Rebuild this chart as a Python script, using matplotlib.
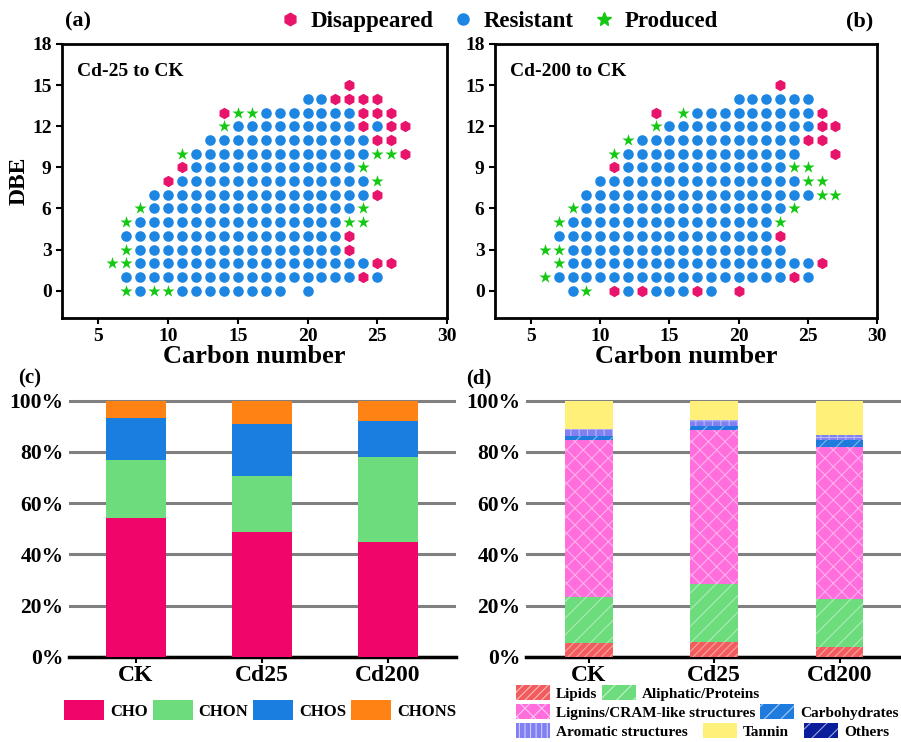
import matplotlib
matplotlib.use("Agg")
import matplotlib.pyplot as plt
import numpy as np
from matplotlib.patches import Patch
from matplotlib.lines import Line2D

plt.rcParams["font.family"] = ["Liberation Serif", "DejaVu Serif"]
plt.rcParams["font.weight"] = "bold"
plt.rcParams["axes.labelweight"] = "bold"
plt.rcParams["hatch.linewidth"] = 0.8

# ---- DBE vs carbon number data ----
# resistant runs: (DBE, first C, last C)
A_RESISTANT = [(0, 8, 8), (0, 11, 18), (0, 20, 20), (1, 7, 23), (1, 25, 25),
               (2, 8, 24), (3, 8, 22), (4, 7, 22), (5, 8, 22), (6, 9, 23),
               (7, 9, 24), (8, 11, 24), (9, 12, 23), (10, 12, 24), (11, 13, 24),
               (12, 15, 23), (12, 25, 25), (13, 17, 23), (14, 20, 21)]
A_DISAPPEARED = [(1, 24), (2, 25), (2, 26), (3, 23), (4, 23), (7, 25), (8, 10),
                 (9, 11), (10, 27), (11, 25), (11, 26), (12, 24), (12, 26),
                 (12, 27), (13, 14), (13, 24), (13, 25), (13, 26), (14, 22),
                 (14, 23), (14, 24), (14, 25), (15, 23)]
A_PRODUCED = [(0, 7), (0, 9), (0, 10), (2, 6), (2, 7), (3, 7), (5, 7), (5, 23),
              (5, 24), (6, 8), (6, 24), (8, 25), (9, 24), (10, 11), (10, 25),
              (10, 26), (12, 14), (13, 15), (13, 16)]

B_RESISTANT = [(0, 8, 8), (0, 12, 12), (0, 14, 16), (0, 18, 18), (1, 7, 23),
               (1, 25, 25), (2, 8, 25), (3, 8, 23), (4, 7, 22), (5, 8, 22),
               (6, 9, 23), (7, 9, 25), (8, 10, 24), (9, 12, 23), (10, 12, 24),
               (11, 13, 24), (12, 15, 25), (13, 17, 25), (14, 20, 25)]
B_DISAPPEARED = [(0, 11), (0, 13), (0, 17), (0, 20), (1, 24), (2, 26), (4, 23),
                 (9, 11), (10, 27), (11, 25), (11, 26), (12, 26), (12, 27),
                 (13, 14), (13, 26), (15, 23)]
B_PRODUCED = [(0, 9), (1, 6), (2, 7), (3, 6), (3, 7), (5, 7), (5, 23), (6, 8),
              (6, 24), (7, 26), (7, 27), (8, 25), (8, 26), (9, 24), (9, 25),
              (10, 11), (11, 12), (12, 14), (13, 16)]

# ---- composition data (%) ----
groups = ["CK", "Cd25", "Cd200"]
cho = [54.3, 48.8, 44.9]
chon = [22.7, 21.9, 33.2]
chos = [16.4, 20.3, 14.1]
chons = [6.6, 9.0, 7.8]

lipids = [5.3, 6.0, 3.8]
aliphatic = [18.3, 22.5, 18.7]
lignins = [61.2, 59.9, 59.4]
carbohydrates = [1.5, 1.8, 2.6]
aromatic = [2.6, 2.4, 2.2]
tannin = [10.8, 7.4, 13.1]
others = [0.3, 0.0, 0.2]

C_DIS = "#E8146B"
C_RES = "#1C86E2"
C_PRO = "#14C814"


def expand(runs):
    xs, ys = [], []
    for d, c0, c1 in runs:
        for c in range(c0, c1 + 1):
            xs.append(c)
            ys.append(d)
    return xs, ys


def scatter_panel(ax, res, dis, pro, title):
    rx, ry = expand(res)
    ax.scatter(rx, ry, s=58, marker="o", color=C_RES, linewidths=0, zorder=3)
    ax.scatter([c for d, c in dis], [d for d, c in dis], s=68, marker="h",
               color=C_DIS, linewidths=0, zorder=3)
    ax.scatter([c for d, c in pro], [d for d, c in pro], s=85, marker="*",
               color=C_PRO, linewidths=0, zorder=3)
    ax.set_xlim(2.4, 30)
    ax.set_ylim(-2, 18)
    ax.set_xticks([5, 10, 15, 20, 25, 30])
    ax.set_yticks([0, 3, 6, 9, 12, 15, 18])
    ax.tick_params(direction="out", width=1.5, length=4, labelsize=14)
    for s in ax.spines.values():
        s.set_linewidth(2)
    ax.set_xlabel("Carbon number", fontsize=19, labelpad=0)
    ax.text(0.04, 0.93, title, transform=ax.transAxes, fontsize=14,
            va="top", ha="left")


fig = plt.figure(figsize=(9.01, 7.42), dpi=100)
W, H = 901, 742


def box(l, t, r, b):
    return [l / W, 1 - b / H, (r - l) / W, (b - t) / H]


ax_a = fig.add_axes(box(62, 44, 447, 318))
ax_b = fig.add_axes(box(495, 44, 877, 318))
scatter_panel(ax_a, A_RESISTANT, A_DISAPPEARED, A_PRODUCED, "Cd-25 to CK")
scatter_panel(ax_b, B_RESISTANT, B_DISAPPEARED, B_PRODUCED, "Cd-200 to CK")
ax_a.set_ylabel("DBE", fontsize=17, labelpad=2)

handles = [Line2D([], [], ls="", marker="h", color=C_DIS, markersize=9),
           Line2D([], [], ls="", marker="o", color=C_RES, markersize=8),
           Line2D([], [], ls="", marker="*", color=C_PRO, markersize=10)]
fig.legend(handles, ["Disappeared", "Resistant", "Produced"], ncol=3,
           loc="center", bbox_to_anchor=(497 / W, 1 - 21 / H), frameon=False,
           fontsize=16.5, handletextpad=0.3, columnspacing=0.7,
           handlelength=1.2)

fig.text(65 / W, 1 - 21 / H, "(a)", fontsize=16, va="center")
fig.text(846 / W, 1 - 21 / H, "(b)", fontsize=16, va="center")
fig.text(18 / W, 1 - 378 / H, "(c)", fontsize=15, va="center")
fig.text(466 / W, 1 - 378 / H, "(d)", fontsize=15, va="center")


def bar_axes_style(ax):
    ax.set_ylim(0, 103)
    ax.set_yticks([0, 20, 40, 60, 80, 100])
    ax.set_yticklabels([f"{v}%" for v in [0, 20, 40, 60, 80, 100]])
    ax.yaxis.grid(True, color="#808080", linewidth=2.2)
    ax.set_axisbelow(True)
    for k in ["left", "right", "top"]:
        ax.spines[k].set_visible(False)
    ax.spines["bottom"].set_linewidth(2.5)
    ax.tick_params(axis="y", length=0, labelsize=15.5, pad=4)
    ax.tick_params(axis="x", length=4, width=1.5, labelsize=17, pad=2)
    ax.set_xticks(range(len(groups)))
    ax.set_xticklabels(groups)


# ---- panel (c) ----
ax_c = fig.add_axes(box(69, 393, 456, 657))
x = np.arange(len(groups))
bottom = np.zeros(len(groups))
c_series = [("CHO", cho, "#F0066B"), ("CHON", chon, "#6CDC7C"),
            ("CHOS", chos, "#1A7EE0"), ("CHONS", chons, "#FF8214")]
c_handles = []
for name, vals, col in c_series:
    ax_c.bar(x, vals, 0.48, bottom=bottom, color=col, linewidth=0, zorder=3)
    bottom += np.array(vals)
    c_handles.append(Patch(facecolor=col, label=name))
ax_c.set_xlim(-0.532, 2.54)
bar_axes_style(ax_c)
fig.legend(handles=c_handles, ncol=4, loc="center",
           bbox_to_anchor=(260 / W, 1 - 710 / H), frameon=False, fontsize=12,
           handlelength=2.4, handleheight=1.5, handletextpad=0.35,
           columnspacing=0.3)

# ---- panel (d) ----
ax_d = fig.add_axes(box(526, 393, 901, 657))
d_series = [("Lipids", lipids, "#F25C5C", "////"),
            ("Aliphatic/Proteins", aliphatic, "#6CDC7C", "//"),
            ("Lignins/CRAM-like structures", lignins, "#FF6EDC", "xx"),
            ("Carbohydrates", carbohydrates, "#1F7BDD", "//"),
            ("Aromatic structures", aromatic, "#8080F2", "++"),
            ("Tannin", tannin, "#FFF07A", ""),
            ("Others", others, "#0A1E9C", "//")]
bottom = np.zeros(len(groups))
d_handles = {}
for name, vals, col, hatch in d_series:
    ax_d.bar(x, vals, 0.38, bottom=bottom, color=col, hatch=hatch,
             edgecolor=(1, 1, 1, 0.45), linewidth=0, zorder=3)
    bottom += np.array(vals)
    d_handles[name] = Patch(facecolor=col, hatch=hatch.replace("++", "|||"),
                            edgecolor=(1, 1, 1, 0.6), linewidth=0, label=name)
ax_d.set_xlim(-0.5, 2.49)
bar_axes_style(ax_d)

rows = [(["Lipids", "Aliphatic/Proteins"], 693, 0.3),
        (["Lignins/CRAM-like structures", "Carbohydrates"], 712, 0.3),
        (["Aromatic structures", "Tannin", "Others"], 731, 1.0)]
for names, yc, gap in rows:
    fig.legend(handles=[d_handles[n] for n in names], ncol=len(names),
               loc="center left", bbox_to_anchor=(508 / W, 1 - yc / H),
               frameon=False, fontsize=11, handlelength=2.2, handleheight=1.15,
               handletextpad=0.4, columnspacing=gap, borderpad=0.05)

fig.savefig("out.png", dpi=100)
